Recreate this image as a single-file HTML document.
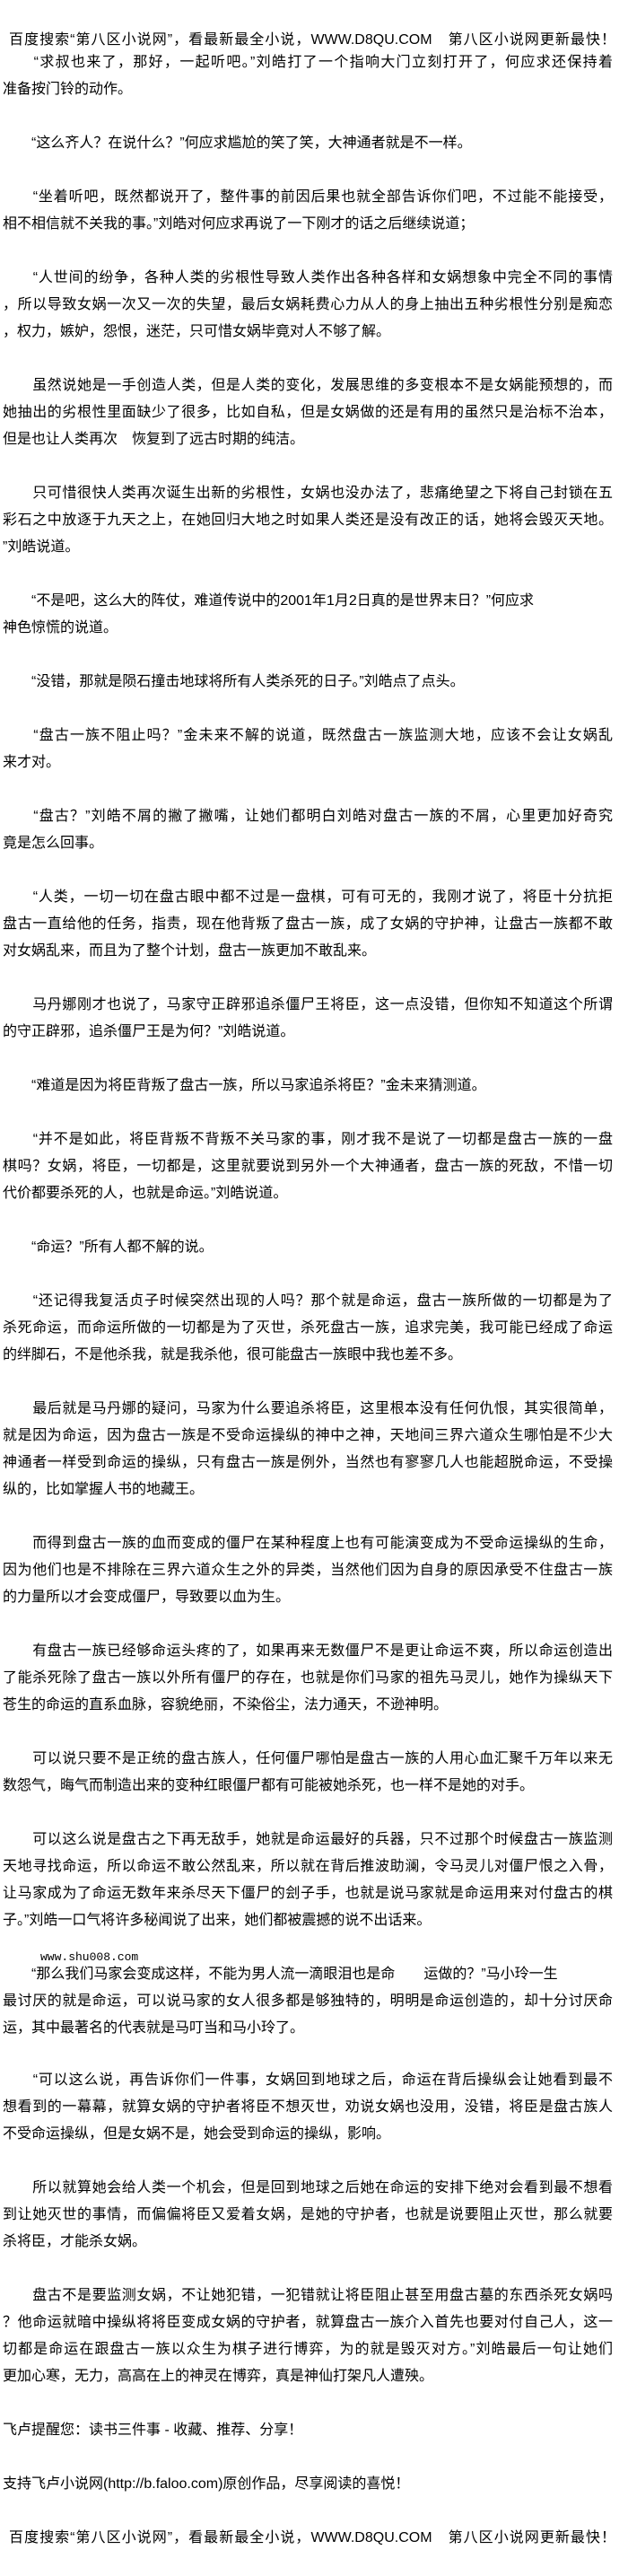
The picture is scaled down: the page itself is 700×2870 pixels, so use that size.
<!DOCTYPE html>
<html><head><meta charset="utf-8"><style>
html,body{margin:0;padding:0;background:#fff;}
body{width:700px;height:2870px;position:relative;overflow:hidden;font-family:"Liberation Sans","Noto Sans CJK SC",sans-serif;font-size:16px;color:#000;}
.l{position:absolute;left:3px;width:680px;height:30px;line-height:30px;white-space:nowrap;}
.f{text-align:justify;text-align-last:justify;}
.h{left:10px;width:676px;}
.s{font-family:"Liberation Mono",monospace;font-size:13px;left:45px;}
</style></head><body>
<div class="l h f" style="top:30px">百度搜索“第八区小说网”，看最新最全小说，WWW.D8QU.COM　第八区小说网更新最快！</div>
<div class="l f" style="top:55px">　　“求叔也来了，那好，一起听吧。”刘皓打了一个指响大门立刻打开了，何应求还保持着</div>
<div class="l" style="top:85px">准备按门铃的动作。</div>
<div class="l" style="top:145px">　　“这么齐人？在说什么？”何应求尴尬的笑了笑，大神通者就是不一样。</div>
<div class="l f" style="top:205px">　　“坐着听吧，既然都说开了，整件事的前因后果也就全部告诉你们吧，不过能不能接受，</div>
<div class="l" style="top:235px">相不相信就不关我的事。”刘皓对何应求再说了一下刚才的话之后继续说道；</div>
<div class="l f" style="top:295px">　　“人世间的纷争，各种人类的劣根性导致人类作出各种各样和女娲想象中完全不同的事情</div>
<div class="l f" style="top:325px">，所以导致女娲一次又一次的失望，最后女娲耗费心力从人的身上抽出五种劣根性分别是痴恋</div>
<div class="l" style="top:355px">，权力，嫉妒，怨恨，迷茫，只可惜女娲毕竟对人不够了解。</div>
<div class="l f" style="top:415px">　　虽然说她是一手创造人类，但是人类的变化，发展思维的多变根本不是女娲能预想的，而</div>
<div class="l f" style="top:445px">她抽出的劣根性里面缺少了很多，比如自私，但是女娲做的还是有用的虽然只是治标不治本，</div>
<div class="l" style="top:475px">但是也让人类再次　恢复到了远古时期的纯洁。</div>
<div class="l f" style="top:535px">　　只可惜很快人类再次诞生出新的劣根性，女娲也没办法了，悲痛绝望之下将自己封锁在五</div>
<div class="l f" style="top:565px">彩石之中放逐于九天之上，在她回归大地之时如果人类还是没有改正的话，她将会毁灭天地。</div>
<div class="l" style="top:595px">”刘皓说道。</div>
<div class="l" style="top:655px">　　“不是吧，这么大的阵仗，难道传说中的2001年1月2日真的是世界末日？”何应求</div>
<div class="l" style="top:685px">神色惊慌的说道。</div>
<div class="l" style="top:745px">　　“没错，那就是陨石撞击地球将所有人类杀死的日子。”刘皓点了点头。</div>
<div class="l f" style="top:805px">　　“盘古一族不阻止吗？”金未来不解的说道，既然盘古一族监测大地，应该不会让女娲乱</div>
<div class="l" style="top:835px">来才对。</div>
<div class="l f" style="top:895px">　　“盘古？”刘皓不屑的撇了撇嘴，让她们都明白刘皓对盘古一族的不屑，心里更加好奇究</div>
<div class="l" style="top:925px">竟是怎么回事。</div>
<div class="l f" style="top:985px">　　“人类，一切一切在盘古眼中都不过是一盘棋，可有可无的，我刚才说了，将臣十分抗拒</div>
<div class="l f" style="top:1015px">盘古一直给他的任务，指责，现在他背叛了盘古一族，成了女娲的守护神，让盘古一族都不敢</div>
<div class="l" style="top:1045px">对女娲乱来，而且为了整个计划，盘古一族更加不敢乱来。</div>
<div class="l f" style="top:1105px">　　马丹娜刚才也说了，马家守正辟邪追杀僵尸王将臣，这一点没错，但你知不知道这个所谓</div>
<div class="l" style="top:1135px">的守正辟邪，追杀僵尸王是为何？”刘皓说道。</div>
<div class="l" style="top:1195px">　　“难道是因为将臣背叛了盘古一族，所以马家追杀将臣？”金未来猜测道。</div>
<div class="l f" style="top:1255px">　　“并不是如此，将臣背叛不背叛不关马家的事，刚才我不是说了一切都是盘古一族的一盘</div>
<div class="l f" style="top:1285px">棋吗？女娲，将臣，一切都是，这里就要说到另外一个大神通者，盘古一族的死敌，不惜一切</div>
<div class="l" style="top:1315px">代价都要杀死的人，也就是命运。”刘皓说道。</div>
<div class="l" style="top:1375px">　　“命运？”所有人都不解的说。</div>
<div class="l f" style="top:1435px">　　“还记得我复活贞子时候突然出现的人吗？那个就是命运，盘古一族所做的一切都是为了</div>
<div class="l f" style="top:1465px">杀死命运，而命运所做的一切都是为了灭世，杀死盘古一族，追求完美，我可能已经成了命运</div>
<div class="l" style="top:1495px">的绊脚石，不是他杀我，就是我杀他，很可能盘古一族眼中我也差不多。</div>
<div class="l f" style="top:1555px">　　最后就是马丹娜的疑问，马家为什么要追杀将臣，这里根本没有任何仇恨，其实很简单，</div>
<div class="l f" style="top:1585px">就是因为命运，因为盘古一族是不受命运操纵的神中之神，天地间三界六道众生哪怕是不少大</div>
<div class="l f" style="top:1615px">神通者一样受到命运的操纵，只有盘古一族是例外，当然也有寥寥几人也能超脱命运，不受操</div>
<div class="l" style="top:1645px">纵的，比如掌握人书的地藏王。</div>
<div class="l f" style="top:1705px">　　而得到盘古一族的血而变成的僵尸在某种程度上也有可能演变成为不受命运操纵的生命，</div>
<div class="l f" style="top:1735px">因为他们也是不排除在三界六道众生之外的异类，当然他们因为自身的原因承受不住盘古一族</div>
<div class="l" style="top:1765px">的力量所以才会变成僵尸，导致要以血为生。</div>
<div class="l f" style="top:1825px">　　有盘古一族已经够命运头疼的了，如果再来无数僵尸不是更让命运不爽，所以命运创造出</div>
<div class="l f" style="top:1855px">了能杀死除了盘古一族以外所有僵尸的存在，也就是你们马家的祖先马灵儿，她作为操纵天下</div>
<div class="l" style="top:1885px">苍生的命运的直系血脉，容貌绝丽，不染俗尘，法力通天，不逊神明。</div>
<div class="l f" style="top:1945px">　　可以说只要不是正统的盘古族人，任何僵尸哪怕是盘古一族的人用心血汇聚千万年以来无</div>
<div class="l" style="top:1975px">数怨气，晦气而制造出来的变种红眼僵尸都有可能被她杀死，也一样不是她的对手。</div>
<div class="l f" style="top:2035px">　　可以这么说是盘古之下再无敌手，她就是命运最好的兵器，只不过那个时候盘古一族监测</div>
<div class="l f" style="top:2065px">天地寻找命运，所以命运不敢公然乱来，所以就在背后推波助澜，令马灵儿对僵尸恨之入骨，</div>
<div class="l f" style="top:2095px">让马家成为了命运无数年来杀尽天下僵尸的刽子手，也就是说马家就是命运用来对付盘古的棋</div>
<div class="l" style="top:2125px">子。”刘皓一口气将许多秘闻说了出来，她们都被震撼的说不出话来。</div>
<div class="l s" style="top:2166px">www.shu008.com</div>
<div class="l" style="top:2185px">　　“那么我们马家会变成这样，不能为男人流一滴眼泪也是命　　运做的？”马小玲一生</div>
<div class="l f" style="top:2215px">最讨厌的就是命运，可以说马家的女人很多都是够独特的，明明是命运创造的，却十分讨厌命</div>
<div class="l" style="top:2245px">运，其中最著名的代表就是马叮当和马小玲了。</div>
<div class="l f" style="top:2303px">　　“可以这么说，再告诉你们一件事，女娲回到地球之后，命运在背后操纵会让她看到最不</div>
<div class="l f" style="top:2333px">想看到的一幕幕，就算女娲的守护者将臣不想灭世，劝说女娲也没用，没错，将臣是盘古族人</div>
<div class="l" style="top:2363px">不受命运操纵，但是女娲不是，她会受到命运的操纵，影响。</div>
<div class="l f" style="top:2423px">　　所以就算她会给人类一个机会，但是回到地球之后她在命运的安排下绝对会看到最不想看</div>
<div class="l f" style="top:2453px">到让她灭世的事情，而偏偏将臣又爱着女娲，是她的守护者，也就是说要阻止灭世，那么就要</div>
<div class="l" style="top:2483px">杀将臣，才能杀女娲。</div>
<div class="l f" style="top:2543px">　　盘古不是要监测女娲，不让她犯错，一犯错就让将臣阻止甚至用盘古墓的东西杀死女娲吗</div>
<div class="l f" style="top:2573px">？他命运就暗中操纵将将臣变成女娲的守护者，就算盘古一族介入首先也要对付自己人，这一</div>
<div class="l f" style="top:2603px">切都是命运在跟盘古一族以众生为棋子进行博弈，为的就是毁灭对方。”刘皓最后一句让她们</div>
<div class="l" style="top:2633px">更加心寒，无力，高高在上的神灵在博弈，真是神仙打架凡人遭殃。</div>
<div class="l" style="top:2693px">飞卢提醒您：读书三件事 - 收藏、推荐、分享！</div>
<div class="l" style="top:2753px">支持飞卢小说网(http://b.faloo.com)原创作品，尽享阅读的喜悦！</div>
<div class="l h f" style="top:2813px">百度搜索“第八区小说网”，看最新最全小说，WWW.D8QU.COM　第八区小说网更新最快！</div>
</body></html>
